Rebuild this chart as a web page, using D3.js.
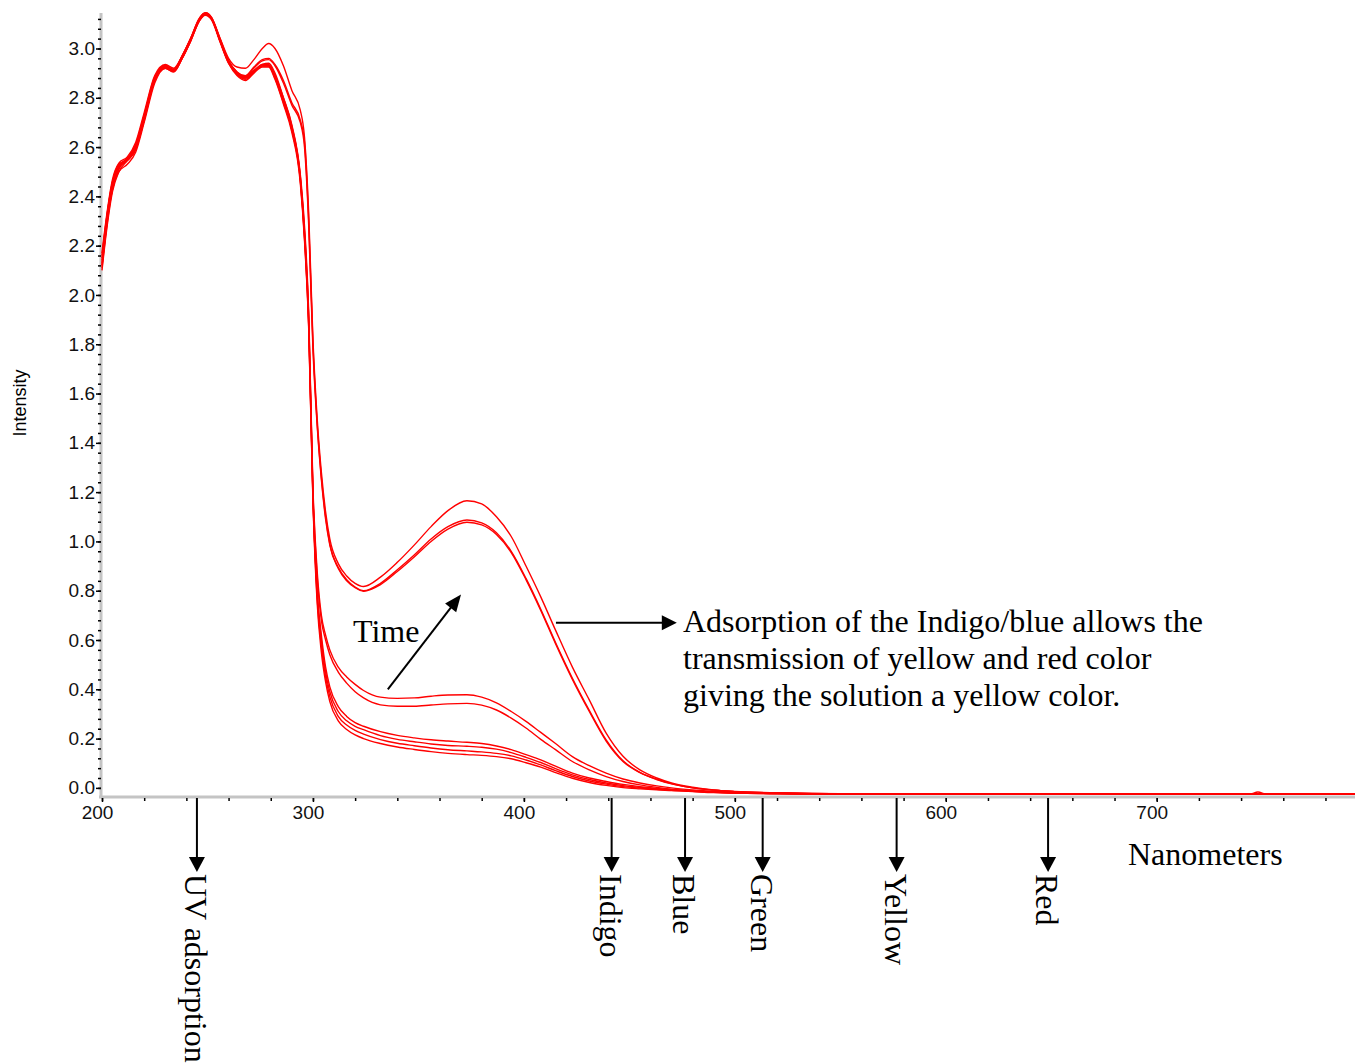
<!DOCTYPE html>
<html>
<head>
<meta charset="utf-8">
<script src="https://cdn.jsdelivr.net/npm/d3@7"></script>
<style>
  body { margin: 0; background: #fff; }
  svg { display: block; }
</style>
</head>
<body>
<svg id="chart"></svg>
<script>
// wavelength grid (nm) shared by all the scans
var nm = [200,202,205,208,212,216,220,225,230,234,238,242,246,249,252,256,260,264,268,272,
          276,279,282,286,290,294,296,298,300,302,304,306,308,312,316,320,324,332,340,348,
          356,364,373,380,387,394,401,408,415,423,431,439,447,455,463,470,480,490,500,520,
          550,600,700,744,748,752,795];

// late scans (yellow band at ~375nm)
var scanA1 = [2.13,2.28,2.43,2.50,2.53,2.58,2.70,2.86,2.92,2.905,2.96,3.03,3.11,3.14,3.12,3.04,2.96,2.925,2.92,2.955,
              3.00,3.02,3.00,2.93,2.83,2.75,2.64,2.33,1.82,1.50,1.28,1.12,1.01,0.91,0.86,0.83,0.817,0.855,0.915,0.985,
              1.06,1.125,1.165,1.152,1.10,1.02,0.90,0.775,0.64,0.49,0.357,0.222,0.128,0.073,0.04,0.02,0.003,-0.008,-0.014,-0.02,
              -0.024,-0.025,-0.025,-0.025,-0.025,-0.025,-0.025];
var scanA2 = [2.15,2.30,2.46,2.53,2.55,2.60,2.72,2.88,2.93,2.91,2.965,3.035,3.115,3.14,3.12,3.035,2.95,2.905,2.89,2.925,
              2.955,2.96,2.935,2.87,2.78,2.71,2.62,2.30,1.80,1.48,1.26,1.10,0.99,0.895,0.845,0.815,0.80,0.83,0.885,0.945,
              1.01,1.06,1.087,1.075,1.035,0.96,0.85,0.725,0.59,0.445,0.315,0.195,0.11,0.063,0.035,0.017,0.0,-0.009,-0.015,-0.021,
              -0.024,-0.025,-0.025,-0.025,-0.017,-0.025,-0.025];
var scanA3 = [2.12,2.27,2.44,2.52,2.545,2.59,2.71,2.87,2.925,2.915,2.97,3.04,3.115,3.14,3.12,3.03,2.945,2.90,2.885,2.92,
              2.95,2.955,2.93,2.86,2.77,2.70,2.60,2.28,1.78,1.47,1.25,1.09,0.985,0.89,0.84,0.812,0.798,0.825,0.878,0.937,
              1.00,1.05,1.078,1.067,1.028,0.955,0.845,0.72,0.585,0.44,0.31,0.19,0.107,0.062,0.034,0.016,0.0,-0.009,-0.015,-0.021,
              -0.024,-0.025,-0.025,-0.025,-0.025,-0.025,-0.025];
// middle scans
var scanB1 = [2.17,2.31,2.47,2.535,2.56,2.62,2.74,2.89,2.935,2.92,2.97,3.04,3.12,3.145,3.125,3.04,2.95,2.90,2.88,2.905,
              2.935,2.94,2.90,2.80,2.69,2.49,2.28,1.93,1.22,0.88,0.70,0.62,0.56,0.49,0.45,0.42,0.395,0.368,0.363,0.365,
              0.372,0.377,0.378,0.368,0.345,0.31,0.27,0.225,0.18,0.127,0.09,0.06,0.036,0.02,0.008,0.0,-0.008,-0.014,-0.018,-0.022,
              -0.024,-0.025,-0.025,-0.025,-0.025,-0.025,-0.025];
var scanB2 = [2.14,2.29,2.45,2.52,2.55,2.61,2.73,2.88,2.93,2.91,2.965,3.035,3.115,3.14,3.12,3.03,2.945,2.895,2.88,2.91,
              2.93,2.93,2.89,2.79,2.68,2.48,2.26,1.91,1.20,0.86,0.68,0.60,0.54,0.47,0.425,0.39,0.365,0.337,0.331,0.331,
              0.336,0.341,0.343,0.336,0.316,0.283,0.243,0.197,0.155,0.107,0.073,0.046,0.026,0.012,0.002,-0.005,-0.012,-0.017,-0.02,-0.023,
              -0.025,-0.025,-0.025,-0.025,-0.025,-0.025,-0.025];
// early scans
var scanC1 = [2.11,2.26,2.43,2.51,2.55,2.595,2.71,2.87,2.93,2.91,2.965,3.035,3.115,3.14,3.12,3.03,2.945,2.90,2.885,2.91,
              2.93,2.93,2.885,2.79,2.67,2.47,2.24,1.88,1.18,0.80,0.62,0.49,0.41,0.33,0.29,0.265,0.25,0.228,0.213,0.203,
              0.195,0.19,0.185,0.18,0.17,0.155,0.135,0.114,0.088,0.06,0.04,0.026,0.014,0.005,-0.002,-0.007,-0.012,-0.016,-0.019,-0.022,
              -0.024,-0.025,-0.025,-0.025,-0.025,-0.025,-0.025];
var scanC2 = [2.16,2.30,2.46,2.525,2.555,2.61,2.73,2.885,2.93,2.915,2.97,3.04,3.12,3.145,3.125,3.035,2.95,2.905,2.885,2.91,
              2.935,2.935,2.89,2.80,2.685,2.48,2.25,1.90,1.19,0.79,0.60,0.47,0.39,0.31,0.272,0.25,0.236,0.212,0.197,0.187,
              0.178,0.172,0.169,0.165,0.157,0.143,0.124,0.103,0.078,0.053,0.034,0.02,0.009,0.002,-0.004,-0.008,-0.013,-0.017,-0.02,-0.023,
              -0.025,-0.025,-0.025,-0.025,-0.025,-0.025,-0.025];
var scanC3 = [2.12,2.27,2.44,2.515,2.55,2.60,2.72,2.875,2.925,2.91,2.96,3.03,3.11,3.14,3.12,3.03,2.94,2.895,2.875,2.905,
              2.93,2.93,2.88,2.78,2.67,2.465,2.23,1.87,1.17,0.77,0.575,0.45,0.37,0.29,0.255,0.233,0.218,0.196,0.181,0.171,
              0.162,0.155,0.15,0.146,0.14,0.13,0.113,0.093,0.07,0.046,0.028,0.015,0.005,-0.001,-0.006,-0.01,-0.014,-0.018,-0.021,-0.023,
              -0.025,-0.025,-0.025,-0.025,-0.025,-0.025,-0.025];
var scanC4 = [2.10,2.25,2.42,2.50,2.545,2.59,2.71,2.87,2.92,2.905,2.96,3.03,3.11,3.135,3.115,3.025,2.94,2.89,2.87,2.90,
              2.925,2.925,2.875,2.775,2.66,2.455,2.22,1.86,1.16,0.75,0.55,0.43,0.35,0.272,0.237,0.215,0.20,0.18,0.166,0.156,
              0.147,0.14,0.135,0.132,0.127,0.118,0.102,0.084,0.062,0.039,0.022,0.01,0.001,-0.004,-0.008,-0.011,-0.015,-0.019,-0.021,-0.024,
              -0.025,-0.025,-0.025,-0.025,-0.025,-0.025,-0.025];

var scans = [scanC4, scanC3, scanC2, scanC1, scanB2, scanB1, scanA3, scanA2, scanA1];

var xTicks = [200, 300, 400, 500, 600, 700];
var yTicks = [0.0, 0.2, 0.4, 0.6, 0.8, 1.0, 1.2, 1.4, 1.6, 1.8, 2.0, 2.2, 2.4, 2.6, 2.8, 3.0];

var bandNames = ["UV adsorption", "Indigo", "Blue", "Green", "Yellow", "Red"];
var bandNm = [245, 441.6, 476.4, 513.2, 576.7, 648.5];

var noteLines = ["Adsorption of the Indigo/blue allows the",
                 "transmission of yellow and red color",
                 "giving the solution a yellow color."];

function drawSpectra(target) {
    var setup = {
      width: 1355,
      height: 1063,
      left: 102,
      right: 1355,
      top: 13,
      bottom: 797
    };
    var serif = "'Liberation Serif','Times New Roman',serif";
    var sans = "'Liberation Sans',Arial,sans-serif";

    var svg = d3.select(target)
      .attr("width", setup.width)
      .attr("height", setup.height);

    var x = d3.scaleLinear()
      .domain([200, 794])
      .range([setup.left, setup.right]);

    var y = d3.scaleLinear()
      .domain([-0.037, 3.144])
      .range([setup.bottom, setup.top]);

    // grey axis bars
    svg.append("line")
      .attr("x1", setup.left - 1).attr("x2", setup.left - 1)
      .attr("y1", setup.top).attr("y2", setup.bottom + 1)
      .attr("stroke", "#c4c4c4").attr("stroke-width", 3);
    svg.append("line")
      .attr("x1", setup.left - 3).attr("x2", setup.right)
      .attr("y1", setup.bottom).attr("y2", setup.bottom)
      .attr("stroke", "#c4c4c4").attr("stroke-width", 3);

    // y axis: minor then major ticks
    svg.append("g")
      .attr("transform", "translate(" + (setup.left - 1) + ",0)")
      .call(d3.axisLeft(y).tickValues(d3.range(0, 3.15, 0.04)).tickSize(3).tickFormat(""))
      .call(g => g.select(".domain").remove())
      .call(g => g.selectAll("line").attr("stroke-width", 1.5));

    svg.append("g")
      .attr("transform", "translate(" + (setup.left - 1) + ",0)")
      .call(d3.axisLeft(y).tickValues(yTicks).tickSize(5).tickPadding(1).tickFormat(d3.format(".1f")))
      .call(g => g.select(".domain").remove())
      .call(g => g.selectAll("line").attr("stroke-width", 1.5))
      .call(g => g.selectAll("text").attr("font-family", sans).attr("font-size", 19).attr("fill", "#111"));

    // x axis
    svg.append("g")
      .attr("transform", "translate(0," + (setup.bottom + 1) + ")")
      .call(d3.axisBottom(x).tickValues(d3.range(200, 795, 20)).tickSize(3).tickFormat(""))
      .call(g => g.select(".domain").remove())
      .call(g => g.selectAll("line").attr("stroke-width", 1.5));

    svg.append("g")
      .attr("transform", "translate(0," + (setup.bottom + 1) + ")")
      .call(d3.axisBottom(x).tickValues(xTicks).tickSize(4).tickPadding(4))
      .call(g => g.select(".domain").remove())
      .call(g => g.selectAll("line").attr("stroke-width", 1.5))
      .call(g => g.selectAll("text").attr("dx", -5).attr("font-family", sans).attr("font-size", 19).attr("fill", "#111"));

    svg.append("text")
      .attr("transform", "translate(26,403) rotate(-90)")
      .attr("text-anchor", "middle")
      .attr("font-family", sans)
      .attr("font-size", 18)
      .text("Intensity");

    // spectra
    var line = d3.line()
      .x((d, i) => x(nm[i]))
      .y(d => y(d))
      .curve(d3.curveMonotoneX);

    svg.append("g")
      .selectAll("path")
      .data(scans)
      .join("path")
      .attr("d", line)
      .attr("fill", "none")
      .attr("stroke", "#ff0000")
      .attr("stroke-width", 1.4);

    // colour band arrows under the axis
    var bands = svg.append("g")
      .selectAll("g")
      .data(bandNames)
      .join("g")
      .attr("transform", (d, i) => "translate(" + x(bandNm[i]) + ",0)");

    bands.append("line")
      .attr("y1", setup.bottom + 1).attr("y2", 860)
      .attr("stroke", "#000").attr("stroke-width", 2);
    bands.append("path")
      .attr("d", "M-8,857L8,857L0,872Z")
      .attr("fill", "#000");
    bands.append("text")
      .attr("transform", "translate(-12,874) rotate(90)")
      .attr("font-family", serif)
      .attr("font-size", 32)
      .text(d => d);

    svg.append("text")
      .attr("x", 1128).attr("y", 865)
      .attr("font-family", serif)
      .attr("font-size", 32)
      .text("Nanometers");

    // "Time" arrow
    var t0 = [x(335.5), y(0.40)], t1 = [x(370.2), y(0.785)];
    var ang = Math.atan2(t1[1] - t0[1], t1[0] - t0[0]) * 180 / Math.PI;
    svg.append("line")
      .attr("x1", t0[0]).attr("y1", t0[1])
      .attr("x2", t1[0] - 12 * Math.cos(ang * Math.PI / 180))
      .attr("y2", t1[1] - 12 * Math.sin(ang * Math.PI / 180))
      .attr("stroke", "#000").attr("stroke-width", 2);
    svg.append("path")
      .attr("transform", "translate(" + t1 + ") rotate(" + ang + ")")
      .attr("d", "M0,0L-17,-7L-17,7Z")
      .attr("fill", "#000");
    svg.append("text")
      .attr("x", 353).attr("y", 642)
      .attr("font-family", serif)
      .attr("font-size", 32)
      .text("Time");

    // note arrow and text
    var ny = y(0.67);
    svg.append("line")
      .attr("x1", x(415.2)).attr("x2", x(468))
      .attr("y1", ny).attr("y2", ny)
      .attr("stroke", "#000").attr("stroke-width", 2);
    svg.append("path")
      .attr("transform", "translate(" + x(472.5) + "," + ny + ")")
      .attr("d", "M0,0L-15,-7.5L-15,7.5Z")
      .attr("fill", "#000");
    svg.append("g")
      .selectAll("text")
      .data(noteLines)
      .join("text")
      .attr("x", 683)
      .attr("y", (d, i) => 632 + i * 37)
      .attr("font-family", serif)
      .attr("font-size", 32)
      .text(d => d);
}

drawSpectra("#chart");
</script>
</body>
</html>
